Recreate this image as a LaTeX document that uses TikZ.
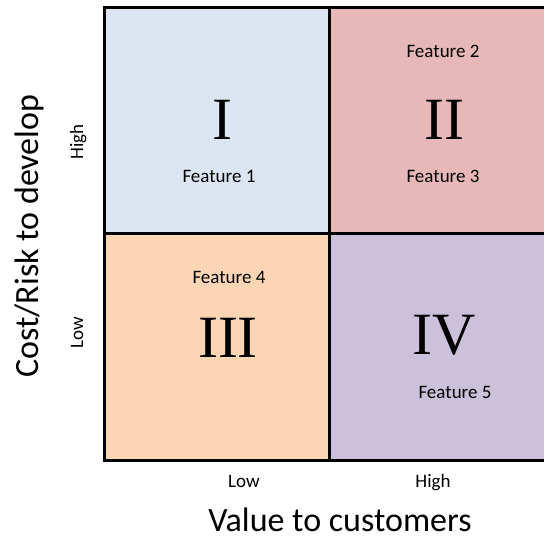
\documentclass[tikz,border=0pt]{standalone}
\usepackage{fontspec}
\setmainfont{Carlito}
\newfontfamily\numfont{Liberation Serif}
\usepackage{tikz}
\usetikzlibrary{positioning}
\definecolor{lowhighcol}{HTML}{DCE6F2}
\definecolor{highhighcol}{HTML}{E6B9B8}
\definecolor{lowlowcol}{HTML}{FCD5B5}
\definecolor{highlowcol}{HTML}{CCC1DA}

\begin{document}
\begin{tikzpicture}[
    x=1pt, y=-1pt,
    quad/.style={rectangle, draw=black, line width=3pt, inner sep=0pt, outer sep=0pt,
                 minimum width=225pt, minimum height=226.5pt},
    numeral/.style={anchor=base, inner sep=0pt, font=\numfont\fontsize{60}{60}\selectfont},
    feature/.style={anchor=base, inner sep=0pt, font=\fontsize{19}{19}\selectfont},
    level/.style={anchor=base, inner sep=0pt, font=\fontsize{19}{19}\selectfont},
    axis/.style={anchor=base, inner sep=0pt, font=\fontsize{34}{34}\selectfont}
]
    \useasboundingbox (0,0) rectangle (544,540);
    \clip (0,0) rectangle (544,540);

    % quadrants
    \node[quad, fill=lowhighcol]  (q1) at (216.5,120.75) {};
    \node[quad, fill=highhighcol] (q2) at (441.5,120.75) {};
    \node[quad, fill=lowlowcol]   (q3) at (216.5,347.25) {};
    \node[quad, fill=highlowcol]  (q4) at (441.5,347.25) {};

    % numerals
    \node[numeral] (n1) at (222,140) {I};
    \node[numeral] (n2) at (444,140) {II};
    \node[numeral] (n3) at (228,357) {III};
    \node[numeral] (n4) at (444,355) {IV};

    % features
    \node[feature] (f1) at (219,183) {Feature 1};
    \node[feature] (f2) at (443,58) {Feature 2};
    \node[feature] (f3) at (443,183) {Feature 3};
    \node[feature] (f4) at (229,284) {Feature 4};
    \node[feature] (f5) at (455,398) {Feature 5};

    % axes
    \node[level] (xlow)  at (244,487) {Low};
    \node[level] (xhigh) at (433,487) {High};
    \node[level, rotate=90] (yhigh) at (83,142) {High};
    \node[level, rotate=90] (ylow)  at (83,333) {Low};
    \node[axis] (xlabel) at (340,531) {Value to customers};
    \node[axis, rotate=90] (ylabel) at (38,236) {Cost/Risk to develop};
\end{tikzpicture}
\end{document}
